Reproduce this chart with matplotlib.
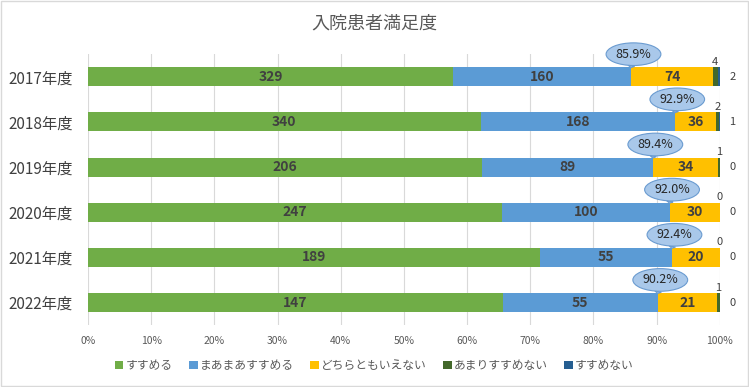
import numpy as np
import matplotlib.pyplot as plt
from matplotlib.patches import Rectangle

plt.rcParams['font.family'] = ['Noto Sans CJK JP', 'DejaVu Sans']

# data
years = ['2017年度', '2018年度', '2019年度', '2020年度', '2021年度', '2022年度']
series = ['すすめる', 'まあまあすすめる', 'どちらともいえない', 'あまりすすめない', 'すすめない']
s1 = [329, 340, 206, 247, 189, 147]
s2 = [160, 168, 89, 100, 55, 55]
s3 = [74, 36, 34, 30, 20, 21]
s4 = [4, 2, 1, 0, 0, 1]
s5 = [2, 1, 0, 0, 0, 0]
colors = ['#70AD47', '#5B9BD5', '#FFC000', '#43682B', '#255E91']

counts = np.array([s1, s2, s3, s4, s5], dtype=float)
total = counts.sum(axis=0)
frac = counts / total

fig = plt.figure(figsize=(7.49, 3.87), dpi=100)
ax = fig.add_axes([0.1175, 0.160, 0.8435, 0.70])

y = np.arange(len(years))
left = np.zeros(len(years))
for k in range(5):
    ax.barh(y, frac[k], left=left, height=0.42, color=colors[k],
            label=series[k], zorder=2)
    for i in range(len(years)):
        v = int(counts[k, i])
        c = left[i] + frac[k, i] / 2
        if k < 3:
            ax.text(c, i, str(v), ha='center', va='center', fontsize=10,
                    fontweight='bold', color='#404040', zorder=3)
        elif k == 3:
            ax.text(c, i - 0.33, str(v), ha='center', va='center',
                    fontsize=8, color='#404040', zorder=3)
        else:
            ax.annotate(str(v), xy=(1.0, i), xytext=(7, 0),
                        textcoords='offset points', ha='left', va='center',
                        fontsize=8, color='#404040', annotation_clip=False)
    left += frac[k]

# callouts: share of top two answers
top2 = frac[0] + frac[1]
for i in range(len(years)):
    ax.annotate(f'{top2[i] * 100:.1f}%', xy=(top2[i], i - 0.2),
                xytext=(top2[i] + 0.004, i - 0.5),
                ha='center', va='center', fontsize=9, color='#262626',
                bbox=dict(boxstyle='ellipse,pad=0.12', fc='#A9C8EA',
                          ec='#6A9BD0', lw=0.8),
                arrowprops=dict(arrowstyle='wedge,tail_width=0.5',
                                fc='#A9C8EA', ec='#6A9BD0', lw=0.8,
                                shrinkA=0, shrinkB=0),
                zorder=5, annotation_clip=False)

ax.set_xlim(0, 1)
ax.set_ylim(len(years) - 0.5, -0.5)
ax.set_yticks(y)
ax.set_yticklabels(years, fontsize=11, color='#404040')
ax.set_xticks(np.linspace(0, 1, 11))
ax.set_xticklabels([f'{p}%' for p in range(0, 101, 10)], fontsize=7.5,
                   color='#595959')
ax.tick_params(length=0)
ax.tick_params(axis='x', pad=8)
ax.tick_params(axis='y', pad=11)
ax.grid(axis='x', color='#D9D9D9', lw=0.8, zorder=0)
for s in ax.spines.values():
    s.set_visible(False)

fig.text(0.5, 0.94, '入院患者満足度', ha='center', va='center', fontsize=13,
         color='#595959')

fig.legend(loc='center', bbox_to_anchor=(0.5, 0.055), ncol=5,
           frameon=False, fontsize=8.5, handlelength=0.7, handleheight=0.7,
           handletextpad=0.2, columnspacing=1.4, labelcolor='#595959')

fig.patches.append(Rectangle((0.001, 0.002), 0.997, 0.995,
                             transform=fig.transFigure, fill=False,
                             ec='#D9D9D9', lw=1))

plt.savefig('out.png', dpi=100)
